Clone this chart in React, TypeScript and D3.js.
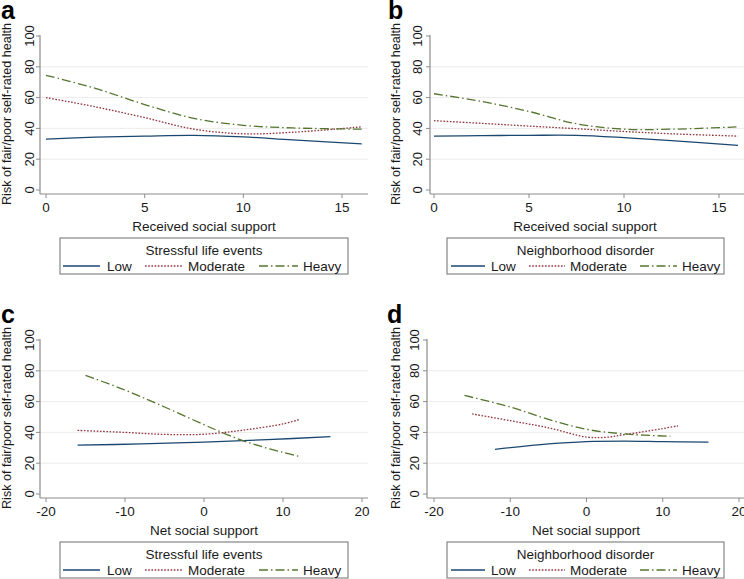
import React from "react";
import * as d3 from "d3";

// ---------- data ----------
const seriesNames = ["Low", "Moderate", "Heavy"];
const legendTitles = ["Stressful life events", "Neighborhood disorder", "Stressful life events", "Neighborhood disorder"];
const xTitles = ["Received social support", "Received social support", "Net social support", "Net social support"];
const panelLetters = ["a", "b", "c", "d"];
const yTicks = [0, 20, 40, 60, 80, 100];
const xTicksReceived = [0, 5, 10, 15];
const xTicksNet = [-20, -10, 0, 10, 20];

const aX = [0, 2.5, 5, 7.5, 10, 12.5, 16];
const aLow = [33, 34.3, 35, 35.5, 34.5, 32.5, 30];
const aModerate = [60, 54, 47, 39.5, 36.5, 37.5, 41];
const aHeavy = [74.5, 66, 55.5, 46.5, 42, 40.3, 39.5];

const bX = [0, 2.5, 5, 7.5, 10, 12.5, 16];
const bLow = [35, 35.3, 35.5, 35.5, 34, 32, 29];
const bModerate = [45, 43.3, 41.5, 39.8, 38, 36.5, 35];
const bHeavy = [62.5, 57.5, 51, 43, 39.5, 39.5, 41];

const cLowX = [-16, -8, 0, 8, 16];
const cLow = [31.7, 32.5, 33.7, 35.3, 37.2];
const cModX = [-16, -10, -5, 0, 5, 10, 12];
const cModerate = [41.3, 40, 38.7, 38.8, 41.5, 45.5, 48.3];
const cHeavyX = [-15, -10, -5, 0, 2.5, 5, 7.5, 10, 12];
const cHeavy = [77, 67.5, 56.5, 45, 39.5, 34.5, 30.5, 27, 24.5];

const dLowX = [-12, -5, 0, 5, 10, 16];
const dLow = [29, 32.5, 34, 34.3, 34, 33.7];
const dModX = [-15, -10, -5, 0, 2.5, 5, 10, 12];
const dModerate = [52, 47.6, 43, 37, 36.8, 38.5, 42.5, 44.3];
const dHeavyX = [-16, -10, -5, 0, 5, 11];
const dHeavy = [64, 56.5, 48.5, 42, 39, 37.5];

// ---------- style ----------
const colors = ["#1a476f", "#90353b", "#55752f"];
const dashes = [undefined, "1.6,1.6", "9,3,1.5,3"];
const FONT = "'Liberation Sans', Arial, Helvetica, sans-serif";
const AXIS = "#8c8c8c";
const TXT = "#1a1a1a";

type Layout = {
  ox: number;
  oy: number;
  xDomain: [number, number];
  xRange: [number, number];
  right: number;
  xTicks: number[];
  yAxisTitleX: number;
  yTickLabelX: number;
  center: number;
  legend: { x0: number; x1: number; items: number[][] };
  letterX: number;
};

const layouts: Layout[] = [
  {
    ox: 40, oy: 0, xDomain: [0, 15], xRange: [46, 342], right: 368, xTicks: xTicksReceived,
    yAxisTitleX: 11, yTickLabelX: 33.5, center: 204,
    legend: { x0: 60, x1: 348, items: [[63, 100, 107], [145, 182, 188], [259, 298, 303]] }, letterX: 1,
  },
  {
    ox: 430, oy: 0, xDomain: [0, 15], xRange: [434, 719], right: 744, xTicks: xTicksReceived,
    yAxisTitleX: 400, yTickLabelX: 421.5, center: 585,
    legend: { x0: 447, x1: 724, items: [[451, 485, 491], [529, 565, 570], [640, 677, 682]] }, letterX: 388,
  },
  {
    ox: 40, oy: 304, xDomain: [-20, 20], xRange: [46, 362], right: 368, xTicks: xTicksNet,
    yAxisTitleX: 11, yTickLabelX: 33.5, center: 204,
    legend: { x0: 60, x1: 348, items: [[63, 100, 107], [145, 182, 188], [259, 298, 303]] }, letterX: 1,
  },
  {
    ox: 427, oy: 304, xDomain: [-20, 20], xRange: [434, 739], right: 744, xTicks: xTicksNet,
    yAxisTitleX: 400, yTickLabelX: 418.5, center: 586,
    legend: { x0: 447, x1: 724, items: [[451, 485, 491], [529, 565, 570], [640, 677, 682]] }, letterX: 387,
  },
];

const panelData = [
  [[aX, aLow], [aX, aModerate], [aX, aHeavy]],
  [[bX, bLow], [bX, bModerate], [bX, bHeavy]],
  [[cLowX, cLow], [cModX, cModerate], [cHeavyX, cHeavy]],
  [[dLowX, dLow], [dModX, dModerate], [dHeavyX, dHeavy]],
];

function Panel({ idx }: { idx: number }) {
  const L = layouts[idx];
  const oy = L.oy;
  const x = d3.scaleLinear().domain(L.xDomain).range(L.xRange);
  const y = d3.scaleLinear().domain([0, 100]).range([190 + oy, 36 + oy]);
  const axisY = 194 + oy;
  const line = d3
    .line<[number, number]>()
    .x((d) => x(d[0]))
    .y((d) => y(d[1]))
    .curve(d3.curveCatmullRom.alpha(0.5));

  const legTop = 238 + oy;
  const legBot = 274 + oy;

  return (
    <g>
      <text x={L.letterX} y={19 + oy} fontFamily={FONT} fontWeight="bold" fontSize={25} fill="#000">
        {panelLetters[idx]}
      </text>
      {yTicks.filter((t) => t > 0 && t < 100).map((t) => (
        <line key={"g" + t} x1={L.ox} x2={L.right} y1={y(t)} y2={y(t)} stroke="#ececec" strokeWidth={1} />
      ))}
      <line x1={L.ox} x2={L.ox} y1={35 + oy} y2={axisY} stroke={AXIS} strokeWidth={1.2} />
      {yTicks.map((t) => (
        <g key={"yt" + t}>
          <line x1={L.ox - 4} x2={L.ox} y1={y(t)} y2={y(t)} stroke={AXIS} strokeWidth={1} />
          <text
            transform={`translate(${L.yTickLabelX},${y(t)}) rotate(-90)`}
            textAnchor="middle"
            fontFamily={FONT}
            fontSize={13}
            fill={TXT}
          >
            {t}
          </text>
        </g>
      ))}
      <text
        transform={`translate(${L.yAxisTitleX},${114 + oy}) rotate(-90)`}
        textAnchor="middle"
        fontFamily={FONT}
        fontSize={12.6}
        fill={TXT}
      >
        Risk of fair/poor self-rated health
      </text>
      <line x1={L.ox} x2={L.right} y1={axisY} y2={axisY} stroke={AXIS} strokeWidth={1.2} />
      {L.xTicks.map((t) => (
        <g key={"xt" + t}>
          <line x1={x(t)} x2={x(t)} y1={axisY} y2={axisY + 4} stroke={AXIS} strokeWidth={1} />
          <text x={x(t)} y={axisY + 18} textAnchor="middle" fontFamily={FONT} fontSize={13.5} fill={TXT}>
            {t}
          </text>
        </g>
      ))}
      <text x={L.center} y={231 + oy} textAnchor="middle" fontFamily={FONT} fontSize={13.5} fill={TXT}>
        {xTitles[idx]}
      </text>
      {panelData[idx].map(([xs, ys], i) => {
        const pts = xs.map((v, j) => [v, ys[j]] as [number, number]);
        return (
          <path
            key={"l" + i}
            d={line(pts) || ""}
            fill="none"
            stroke={colors[i]}
            strokeWidth={1.3}
            strokeDasharray={dashes[i]}
          />
        );
      })}
      <rect
        x={L.legend.x0}
        y={legTop}
        width={L.legend.x1 - L.legend.x0}
        height={legBot - legTop}
        fill="#fff"
        stroke="#6e6e6e"
        strokeWidth={1}
      />
      <text
        x={(L.legend.x0 + L.legend.x1) / 2}
        y={255 + oy}
        textAnchor="middle"
        fontFamily={FONT}
        fontSize={13.5}
        fill={TXT}
      >
        {legendTitles[idx]}
      </text>
      {seriesNames.map((s, i) => {
        const [l0, l1, tx] = L.legend.items[i];
        return (
          <g key={"lg" + i}>
            <line x1={l0} x2={l1} y1={266 + oy} y2={266 + oy} stroke={colors[i]} strokeWidth={1.3} strokeDasharray={dashes[i]} />
            <text x={tx} y={271 + oy} fontFamily={FONT} fontSize={13.5} fill={TXT}>
              {s}
            </text>
          </g>
        );
      })}
    </g>
  );
}

export default function App() {
  return (
    <>
      <style>{"body{margin:0;}"}</style>
      <svg width={744} height={579} style={{ display: "block", background: "#fff" }}>
        <rect x={0} y={0} width={744} height={579} fill="#fff" />
        {[0, 1, 2, 3].map((i) => (
          <Panel key={i} idx={i} />
        ))}
      </svg>
    </>
  );
}
